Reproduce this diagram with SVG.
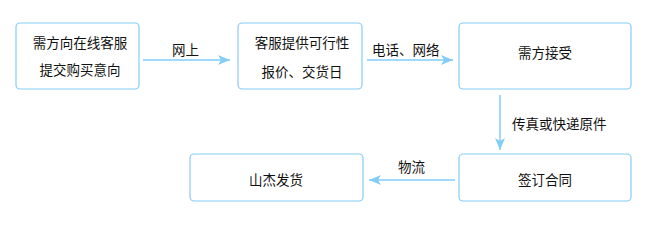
<svg xmlns="http://www.w3.org/2000/svg" width="650" height="225" viewBox="0 0 650 225">
<defs>
<style>
.box{fill:#ffffff;stroke:#84cdf6;stroke-width:1.2}
.t{font-family:"Noto Sans CJK SC","Noto Sans",sans-serif;font-size:13.5px;fill:#111;text-anchor:middle}
.l{font-family:"Noto Sans CJK SC","Noto Sans",sans-serif;font-size:13.5px;fill:#111}
.c{stroke:#84cdf6;stroke-width:1.5;fill:none}
</style>
<marker id="ah" viewBox="0 0 12 10" refX="12" refY="5" markerWidth="12" markerHeight="10" markerUnits="userSpaceOnUse" orient="auto">
<path d="M0,0 L12,5 L0,10 L3,5 Z" fill="#84cdf6"/>
</marker>
</defs>
<rect width="650" height="225" fill="#ffffff"/>
<g id="connectors">
<line class="c" x1="143" y1="60" x2="230" y2="60" marker-end="url(#ah)"/>
<text class="l" x="172" y="55">网上</text>
<line class="c" x1="367" y1="60" x2="453" y2="60" marker-end="url(#ah)"/>
<text class="l" x="372" y="55">电话、网络</text>
<line class="c" x1="500" y1="95" x2="500" y2="150" marker-end="url(#ah)"/>
<text class="l" x="512" y="129">传真或快递原件</text>
<line class="c" x1="455" y1="180" x2="369" y2="180" marker-end="url(#ah)"/>
<text class="l" x="398" y="172">物流</text>
</g>
<g id="n1">
<rect class="box" x="16" y="23" width="123" height="66" rx="4"/>
<text class="t" x="80" y="48">需方向在线客服</text>
<text class="t" x="80" y="75">提交购买意向</text>
</g>
<g id="n2">
<rect class="box" x="238" y="23" width="124" height="66" rx="4"/>
<text class="t" x="302" y="48">客服提供可行性</text>
<text class="t" x="302" y="77">报价、交货日</text>
</g>
<g id="n3">
<rect class="box" x="459" y="23" width="172" height="66" rx="4"/>
<text class="t" x="545" y="58">需方接受</text>
</g>
<g id="n4">
<rect class="box" x="459" y="154" width="172" height="47" rx="4"/>
<text class="t" x="545" y="185">签订合同</text>
</g>
<g id="n5">
<rect class="box" x="190" y="154" width="173" height="47" rx="4"/>
<text class="t" x="276" y="185">山杰发货</text>
</g>
</svg>
